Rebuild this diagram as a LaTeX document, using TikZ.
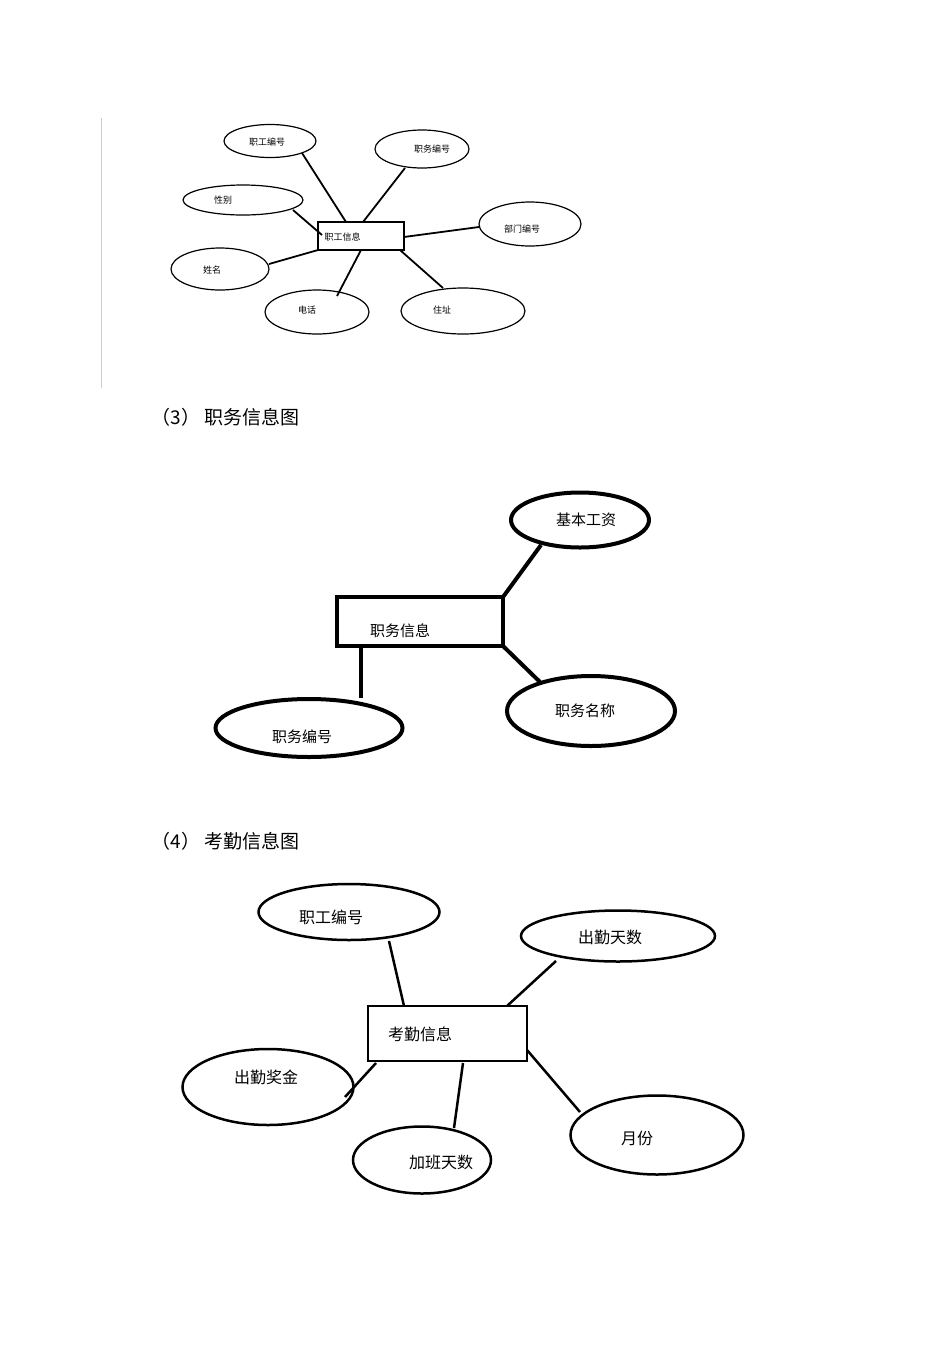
\documentclass[tikz,border=0pt]{standalone}
\usepackage{fontspec}
\setmainfont{Noto Sans CJK SC}
\begin{document}
\begin{tikzpicture}[x=1pt,y=-1pt,
  ea/.style={draw,ellipse,line width=1.2pt,inner sep=0pt},
  eb/.style={draw,ellipse,line width=4pt,inner sep=0pt},
  ec/.style={draw,ellipse,line width=2.5pt,inner sep=0pt},
  la/.style={line width=1.8pt},
  lb/.style={line width=4pt},
  lc/.style={line width=2.5pt},
  ta/.style={font=\fontsize{9}{10}\selectfont},
  tb/.style={font=\fontsize{15}{16}\selectfont},
  tc/.style={font=\fontsize{16}{17}\selectfont},
  tt/.style={font=\fontsize{19}{20}\selectfont,anchor=west}]
\useasboundingbox (0,0) rectangle (950,1345);
\usetikzlibrary{shapes.geometric}
\draw[gray!40,line width=0.8pt] (101,118) -- (101,388);
% diagram 1
\draw[line width=1.5pt] (318,222) rectangle (404,250);
\coordinate (b1) at (361,236);
\node[ta,anchor=west] (t1) at (321,237) {职工信息};
\node[ea,minimum width=92,minimum height=33] (a1) at (270,141) {};
\node[ta] at (267,142) {职工编号};
\node[ea,minimum width=94,minimum height=38] (a2) at (422,149) {};
\node[ta] at (432,149) {职务编号};
\node[ea,minimum width=120,minimum height=30] (a3) at (243,200) {};
\node[ta] at (223,200) {性别};
\node[ea,minimum width=102,minimum height=44] (a4) at (530,224) {};
\node[ta] at (522,229) {部门编号};
\node[ea,minimum width=98,minimum height=42] (a5) at (220,269) {};
\node[ta] at (212,270) {姓名};
\node[ea,minimum width=104,minimum height=44] (a6) at (317,312) {};
\node[ta] at (307,310) {电话};
\node[ea,minimum width=124,minimum height=46] (a7) at (463,311) {};
\node[ta] at (442,310) {住址};
\coordinate (p1) at (302,153); \coordinate (q1) at (346,222);
\coordinate (p2) at (405,168); \coordinate (q2) at (363,222);
\coordinate (p3) at (293,210); \coordinate (q3) at (322,235);
\coordinate (p4) at (479,227); \coordinate (q4) at (404,237);
\coordinate (p5) at (269,264); \coordinate (q5) at (318,250);
\coordinate (p6) at (337,296); \coordinate (q6) at (361,250);
\coordinate (p7) at (443,288); \coordinate (q7) at (400,250);
\foreach \i in {1,...,7}{\draw[la] (p\i) -- (q\i);}
% titles
\node[tt] (h3) at (148,417) {（3） 职务信息图};
\node[tt] (h4) at (148,841) {（4） 考勤信息图};
% diagram 3
\draw[line width=4pt] (337,597) rectangle (503,646);
\node[tb] (t3) at (400,631) {职务信息};
\node[eb,minimum width=138,minimum height=55] (c1) at (580,520) {};
\node[tb] at (586,520) {基本工资};
\node[eb,minimum width=168,minimum height=70] (c2) at (591,711) {};
\node[tb] at (585,711) {职务名称};
\node[eb,minimum width=187,minimum height=58] (c3) at (309,728) {};
\node[tb] at (302,737) {职务编号};
\coordinate (r1) at (503,597); \coordinate (s1) at (541,545);
\coordinate (r2) at (503,646); \coordinate (s2) at (540,682);
\coordinate (r3) at (361,646); \coordinate (s3) at (361,698);
\foreach \i in {1,2,3}{\draw[lb] (r\i) -- (s\i);}
% diagram 4
\draw[line width=2.5pt] (368,1006) rectangle (527,1061);
\node[tc] (t4) at (420,1034) {考勤信息};
\node[ec,minimum width=181,minimum height=56] (d1) at (349,912) {};
\node[tc] at (331,917) {职工编号};
\node[ec,minimum width=194,minimum height=51] (d2) at (618,936) {};
\node[tc] at (610,937) {出勤天数};
\node[ec,minimum width=171,minimum height=76] (d3) at (268,1087) {};
\node[tc] at (266,1077) {出勤奖金};
\node[ec,minimum width=138,minimum height=67] (d4) at (422,1160) {};
\node[tc] at (441,1162) {加班天数};
\node[ec,minimum width=173,minimum height=79] (d5) at (657,1135) {};
\node[tc] at (637,1138) {月份};
\coordinate (u1) at (389,941); \coordinate (v1) at (404,1006);
\coordinate (u2) at (556,961); \coordinate (v2) at (507,1006);
\coordinate (u3) at (345,1097); \coordinate (v3) at (376,1063);
\coordinate (u4) at (454,1128); \coordinate (v4) at (463,1063);
\coordinate (u5) at (580,1112); \coordinate (v5) at (527,1050);
\foreach \i in {1,...,5}{\draw[lc] (u\i) -- (v\i);}
\end{tikzpicture}
\end{document}
